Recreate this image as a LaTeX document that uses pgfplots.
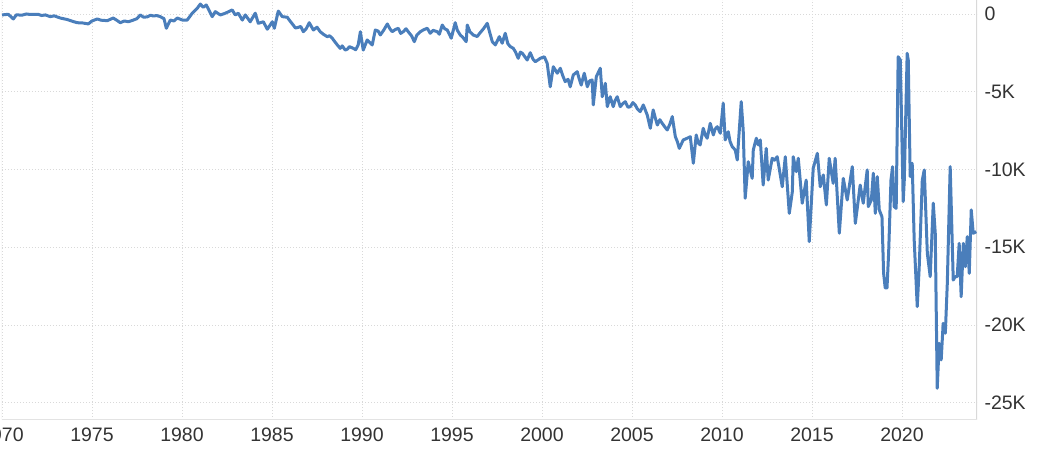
\documentclass[border=0pt]{standalone}
\usepackage{fontspec}
\setmainfont{Liberation Sans}
\usepackage{pgfplots}
\pgfplotsset{compat=1.18}
\definecolor{linec}{HTML}{4A7EBB}
\definecolor{gridc}{HTML}{D9D9D9}
\definecolor{axc}{HTML}{E3E3E3}
\definecolor{txtc}{HTML}{333333}
\begin{document}
\begin{tikzpicture}
\begin{axis}[
  scale only axis,
  width=975pt, height=420pt,
  xmin=1970, xmax=2024.17,
  ymin=-26.11, ymax=0.90,
  axis line style={draw=none},
  xtick={1970,1975,1980,1985,1990,1995,2000,2005,2010,2015,2020},
  xticklabels={1970,1975,1980,1985,1990,1995,2000,2005,2010,2015,2020},
  ytick={0,-5,-10,-15,-20,-25},
  yticklabels={0,-5K,-10K,-15K,-20K,-25K},
  xtick pos=bottom, ytick pos=right,
  yticklabel pos=right,
  major tick length=0pt,
  grid=major,
  grid style={color=gridc, line width=0.9pt, dash pattern=on 1.3pt off 1.7pt},
  xticklabel style={font=\fontsize{19.5}{22}\selectfont, text=txtc, anchor=north, yshift=-4pt},
  yticklabel style={font=\fontsize{19.5}{22}\selectfont, text=txtc, anchor=west, xshift=4pt},
  clip=true,
]
\draw[axc, line width=1pt] (rel axis cs:0,0) -- (rel axis cs:0,1);
\draw[gridc, line width=1.2pt] (rel axis cs:1,0) -- (rel axis cs:1,1);
\draw[axc, line width=1pt] (rel axis cs:0,0) -- (rel axis cs:1,0);
\addplot[linec, line width=3pt, line join=round] table {
x y
1970.00 -0.06
1970.35 -0.02
1970.63 -0.32
1970.80 -0.05
1971.10 -0.08
1971.35 0.00
1971.57 -0.03
1972.00 -0.02
1972.20 -0.10
1972.41 -0.06
1972.68 -0.17
1972.90 -0.12
1973.24 -0.26
1973.60 -0.35
1974.00 -0.50
1974.18 -0.56
1974.50 -0.58
1974.79 -0.64
1975.00 -0.45
1975.29 -0.32
1975.50 -0.40
1975.85 -0.43
1976.18 -0.26
1976.40 -0.42
1976.57 -0.56
1976.80 -0.45
1977.02 -0.50
1977.30 -0.39
1977.50 -0.30
1977.68 -0.06
1977.85 -0.20
1978.07 -0.19
1978.25 -0.08
1978.41 -0.13
1978.60 -0.10
1978.79 -0.17
1979.00 -0.30
1979.13 -0.92
1979.35 -0.39
1979.55 -0.45
1979.74 -0.26
1980.02 -0.39
1980.29 -0.39
1980.57 0.05
1980.85 0.37
1981.02 0.64
1981.18 0.43
1981.35 0.58
1981.68 -0.17
1981.85 0.15
1982.13 -0.06
1982.41 0.05
1982.79 0.26
1982.96 -0.06
1983.13 0.05
1983.35 -0.39
1983.52 -0.06
1983.79 -0.50
1984.07 0.05
1984.24 -0.60
1984.52 -0.50
1984.74 -0.98
1985.02 -0.50
1985.13 -0.92
1985.35 0.19
1985.57 -0.17
1985.85 -0.21
1986.00 -0.45
1986.18 -0.71
1986.30 -0.90
1986.46 -0.86
1986.60 -0.80
1986.74 -1.14
1986.90 -0.95
1987.07 -0.56
1987.30 -1.03
1987.50 -0.85
1987.68 -1.14
1987.85 -1.30
1988.07 -1.46
1988.20 -1.40
1988.35 -1.56
1988.50 -1.80
1988.63 -1.99
1988.79 -2.21
1988.90 -2.05
1989.07 -2.32
1989.20 -2.25
1989.30 -2.10
1989.52 -2.21
1989.65 -2.30
1989.79 -1.99
1989.91 -1.14
1990.07 -2.32
1990.29 -1.67
1990.57 -1.99
1990.74 -1.03
1990.90 -1.10
1991.02 -1.35
1991.20 -1.05
1991.41 -0.64
1991.55 -0.95
1991.68 -1.14
1991.85 -1.00
1992.02 -0.92
1992.15 -1.25
1992.29 -1.14
1992.45 -0.95
1992.57 -1.14
1992.75 -1.40
1992.91 -1.78
1993.05 -1.35
1993.24 -1.14
1993.45 -1.00
1993.63 -0.92
1993.79 -1.24
1993.95 -1.05
1994.18 -1.14
1994.30 -1.30
1994.46 -0.71
1994.60 -0.95
1994.74 -1.03
1994.96 -1.56
1995.18 -0.56
1995.30 -1.05
1995.46 -1.35
1995.60 -1.50
1995.79 -1.78
1995.85 -0.71
1996.00 -1.15
1996.18 -1.35
1996.40 -1.45
1996.57 -1.20
1996.75 -0.95
1996.96 -0.60
1997.10 -1.20
1997.24 -1.78
1997.41 -1.99
1997.63 -1.46
1997.79 -1.88
1997.96 -1.24
1998.10 -1.90
1998.24 -2.10
1998.40 -2.20
1998.52 -2.42
1998.68 -2.85
1998.80 -2.45
1998.91 -2.53
1999.05 -2.75
1999.18 -2.96
1999.35 -2.49
1999.50 -2.90
1999.63 -3.07
1999.91 -2.85
2000.13 -2.75
2000.29 -3.17
2000.46 -4.68
2000.63 -3.39
2000.85 -3.81
2001.02 -3.49
2001.15 -3.95
2001.29 -4.35
2001.45 -4.20
2001.57 -4.68
2001.74 -3.92
2001.96 -3.71
2002.05 -4.10
2002.18 -4.57
2002.35 -3.81
2002.52 -4.68
2002.65 -4.30
2002.79 -4.24
2002.85 -5.85
2003.02 -4.03
2003.24 -3.49
2003.35 -5.32
2003.52 -4.46
2003.63 -5.96
2003.79 -5.32
2003.96 -5.96
2004.05 -5.60
2004.18 -5.32
2004.35 -5.96
2004.50 -5.75
2004.63 -5.64
2004.78 -6.00
2004.91 -5.96
2005.05 -5.70
2005.18 -5.85
2005.30 -6.10
2005.46 -6.28
2005.63 -5.85
2005.85 -6.50
2006.02 -7.35
2006.18 -6.17
2006.30 -6.70
2006.41 -7.14
2006.55 -6.80
2006.68 -7.03
2006.85 -7.30
2006.96 -7.46
2007.10 -7.10
2007.24 -6.60
2007.41 -7.89
2007.52 -8.20
2007.63 -8.64
2007.85 -8.10
2008.05 -8.00
2008.24 -7.89
2008.41 -9.60
2008.57 -7.78
2008.68 -8.30
2008.79 -8.42
2008.96 -7.35
2009.08 -7.80
2009.18 -7.99
2009.35 -7.03
2009.52 -7.78
2009.62 -7.40
2009.74 -7.25
2009.91 -7.67
2010.07 -5.74
2010.18 -8.10
2010.35 -7.57
2010.45 -8.20
2010.57 -8.53
2010.74 -8.75
2010.85 -9.39
2011.07 -5.64
2011.18 -7.46
2011.29 -11.85
2011.46 -9.50
2011.68 -10.57
2011.74 -8.75
2011.91 -7.99
2012.02 -8.42
2012.13 -8.10
2012.29 -11.00
2012.46 -8.64
2012.57 -10.68
2012.79 -9.28
2012.92 -9.40
2013.07 -9.18
2013.35 -11.11
2013.52 -9.18
2013.74 -12.82
2013.91 -11.43
2013.96 -9.18
2014.13 -10.14
2014.24 -9.28
2014.46 -12.17
2014.68 -10.68
2014.85 -14.64
2015.07 -9.92
2015.30 -8.96
2015.46 -11.11
2015.63 -10.35
2015.80 -12.28
2015.96 -9.28
2016.18 -10.89
2016.29 -9.28
2016.52 -14.10
2016.74 -10.57
2016.96 -11.96
2017.24 -9.82
2017.41 -13.46
2017.68 -11.00
2017.85 -12.17
2018.07 -10.03
2018.13 -12.39
2018.30 -11.96
2018.41 -10.24
2018.52 -12.82
2018.63 -10.46
2018.74 -12.60
2018.89 -13.04
2018.98 -16.66
2019.07 -17.62
2019.17 -17.62
2019.26 -15.37
2019.39 -10.68
2019.48 -9.82
2019.57 -12.39
2019.68 -12.50
2019.79 -2.75
2019.91 -2.96
2020.07 -12.07
2020.13 -10.68
2020.29 -2.53
2020.35 -2.96
2020.46 -10.46
2020.57 -9.60
2020.68 -14.53
2020.85 -18.82
2020.96 -16.25
2021.13 -10.68
2021.24 -10.03
2021.41 -15.39
2021.57 -16.89
2021.74 -12.17
2021.85 -14.10
2021.96 -24.07
2022.07 -21.18
2022.18 -22.25
2022.29 -19.89
2022.41 -20.53
2022.52 -17.32
2022.68 -9.82
2022.85 -17.11
2022.96 -16.89
2023.07 -16.89
2023.18 -14.75
2023.29 -18.18
2023.41 -14.75
2023.52 -16.25
2023.63 -14.32
2023.74 -16.68
2023.85 -12.60
2023.96 -14.10
2024.13 -14.00
};
\end{axis}
\pgfresetboundingbox
\path[use as bounding box] (-2pt,-34pt) rectangle (1039pt,420pt);
\end{tikzpicture}
\end{document}
